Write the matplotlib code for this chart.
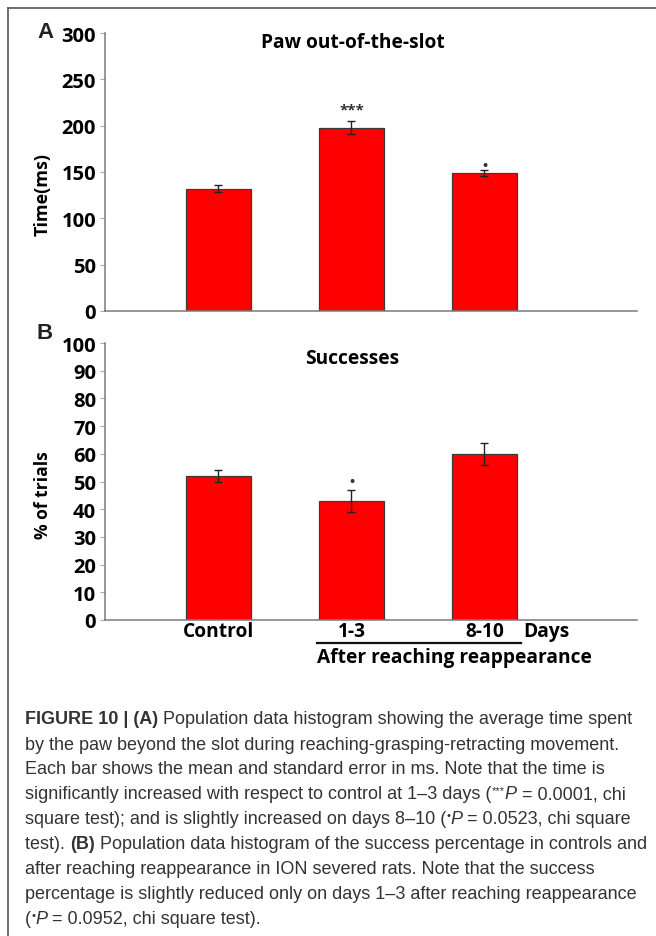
import matplotlib
matplotlib.use("Agg")
import matplotlib.pyplot as plt
from matplotlib import font_manager as fm
from matplotlib.lines import Line2D

# ---- data ----
groups = ["Control", "1-3", "8-10"]
paw_time_ms = [132, 198, 149]
paw_time_err = [4, 6.5, 3]
success_pct = [52, 43, 60]
success_err = [2, 4, 4]
paw_marks = ["", "***", "•"]
success_marks = ["", "•", ""]
paw_ticks = [0, 50, 100, 150, 200, 250, 300]
success_ticks = [0, 10, 20, 30, 40, 50, 60, 70, 80, 90, 100]

W, H = 656, 937
DPI = 100

available = {f.name for f in fm.fontManager.ttflist}
def pick(*names):
    for n in names:
        if n in available:
            return n
    return "DejaVu Sans"

CHART_FONT = pick("Open Sans", "Lato", "DejaVu Sans")
LETTER_FONT = pick("Liberation Sans", "DejaVu Sans")
CAPTION_FONT = pick("Liberation Sans Narrow", "DejaVu Sans Condensed", "Liberation Sans")

plt.rcParams["font.family"] = [CHART_FONT, "DejaVu Sans"]

fig = plt.figure(figsize=(W / DPI, H / DPI), dpi=DPI)


def fx(px):
    return px / W


def fy(py):
    return 1 - py / H


AXIS_GRAY = "#7a7a7a"
BAR_RED = "#ff0000"
LABEL_SIZE = 13.8


def panel(rect_px, values, errs, ticks, ymax, marks, mark_offsets):
    x0, y0, x1, y1 = rect_px
    ax = fig.add_axes([fx(x0), fy(y1), fx(x1) - fx(x0), fy(y0) - fy(y1)])
    pos = [1, 2, 3]
    ax.bar(pos, values, width=0.49, color=BAR_RED, edgecolor="#3a3a3a",
           linewidth=0.9, zorder=2)
    ax.errorbar(pos, values, yerr=errs, fmt="none", ecolor="#222222",
                elinewidth=1.0, capsize=3, capthick=1.0, zorder=3)
    for p, v, e, m, off in zip(pos, values, errs, marks, mark_offsets):
        if m:
            ax.annotate(m, (p, v + e), xytext=(0, off), textcoords="offset points",
                        ha="center", va="center", fontsize=11 if m == "***" else 10,
                        fontweight="bold", color="#333333")
    ax.set_xlim(0.147, 4.147)
    ax.set_ylim(0, ymax)
    ax.set_yticks(ticks)
    ax.set_yticklabels([str(t) for t in ticks], fontsize=14.5, fontweight="bold")
    ax.set_xticks([])
    for s in ("top", "right"):
        ax.spines[s].set_visible(False)
    for s in ("left", "bottom"):
        ax.spines[s].set_color(AXIS_GRAY)
        ax.spines[s].set_linewidth(1.1)
    ax.tick_params(axis="y", direction="out", length=3.5, width=0.8,
                   color="#aaaaaa", pad=3)
    return ax


axA = panel((105, 34, 637, 312), paw_time_ms, paw_time_err, paw_ticks, 300,
            paw_marks, [0, 9, 4])
axB = panel((105, 344, 637, 621), success_pct, success_err, success_ticks, 100,
            success_marks, [0, 6, 0])

# panel titles
fig.text(fx(353), fy(43), "Paw out-of-the-slot", ha="center", va="center",
         fontsize=LABEL_SIZE, fontweight="bold")
fig.text(fx(352), fy(359), "Successes", ha="center", va="center",
         fontsize=LABEL_SIZE, fontweight="bold")

# axis titles
fig.text(fx(43), fy(194), "Time(ms)", rotation=90, ha="center", va="center",
         fontsize=13, fontweight="bold")
fig.text(fx(43), fy(495), "% of trials", rotation=90, ha="center", va="center",
         fontsize=12.6, fontweight="bold")

# panel letters
fig.text(fx(45), fy(33), "A", ha="center", va="center", fontsize=16,
         fontweight="bold", family=LETTER_FONT, color="#222222")
fig.text(fx(45), fy(334), "B", ha="center", va="center", fontsize=16,
         fontweight="bold", family=LETTER_FONT, color="#222222")

# category labels under panel B
label_y = -(632 - 621) / (621 - 344)
for p, g in zip([1, 2, 3], groups):
    axB.text(p, label_y, g, transform=axB.get_xaxis_transform(), ha="center",
             va="center", fontsize=LABEL_SIZE, fontweight="bold")
fig.text(fx(523), fy(632), "Days", ha="left", va="center", fontsize=LABEL_SIZE,
         fontweight="bold")
fig.add_artist(Line2D([fx(317), fx(521)], [fy(644), fy(644)], color="#111111",
                      linewidth=1.6))
fig.text(fx(317), fy(658), "After reaching reappearance", ha="left", va="center",
         fontsize=LABEL_SIZE, fontweight="bold")

# outer frame (left and top edges visible)
fig.add_artist(Line2D([fx(8), fx(8)], [fy(9), 0], color="#555555", linewidth=1.2))
fig.add_artist(Line2D([fx(8), 1], [fy(9), fy(9)], color="#555555", linewidth=1.2))

# ---- caption ----
CAP = dict(family=[CAPTION_FONT, "DejaVu Sans"], fontsize=13.0, color="#333333")
BOLD = dict(CAP, fontweight="bold")
ITAL = dict(CAP, style="italic")
SUP = dict(CAP, fontsize=8)

caption = [
    [("FIGURE 10 | (A)", BOLD), (" Population data histogram showing the average time spent", CAP)],
    [("by the paw beyond the slot during reaching-grasping-retracting movement.", CAP)],
    [("Each bar shows the mean and standard error in ms. Note that the time is", CAP)],
    [("significantly increased with respect to control at 1–3 days (", CAP), ("***", SUP),
     ("P", ITAL), (" = 0.0001, chi", CAP)],
    [("square test); and is slightly increased on days 8–10 (", CAP), ("•", SUP),
     ("P", ITAL), (" = 0.0523, chi square", CAP)],
    [("test). ", CAP), ("(B)", BOLD),
     (" Population data histogram of the success percentage in controls and", CAP)],
    [("after reaching reappearance in ION severed rats. Note that the success", CAP)],
    [("percentage is slightly reduced only on days 1–3 after reaching reappearance", CAP)],
    [("(", CAP), ("•", SUP), ("P", ITAL), (" = 0.0952, chi square test).", CAP)],
]

renderer = fig.canvas.get_renderer()
y = 720
for line in caption:
    x = 25
    for text, props in line:
        dy = -4 if props is SUP else 0
        t = fig.text(fx(x), fy(y + dy), text, ha="left", va="center", **props)
        x += t.get_window_extent(renderer).width
    y += 25

fig.savefig("out.png", dpi=DPI)
